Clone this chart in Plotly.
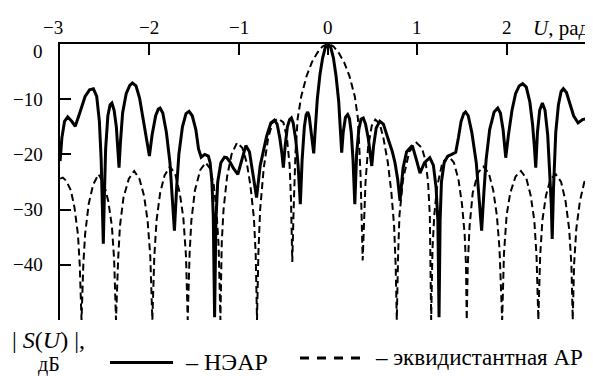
import plotly.graph_objects as go

# ---- data ----
u_near = [-3.00, -2.98, -2.95, -2.915, -2.87, -2.83, -2.78, -2.72, -2.67, -2.627,
          -2.59, -2.56, -2.54, -2.525, -2.516, -2.505, -2.49, -2.465, -2.44, -2.42,
          -2.395, -2.37, -2.35, -2.34, -2.325, -2.30, -2.26, -2.22, -2.19, -2.15,
          -2.11, -2.07, -2.03, -2.00, -1.97, -1.93, -1.90, -1.88, -1.85, -1.81,
          -1.77, -1.745, -1.72, -1.695, -1.67, -1.63, -1.59, -1.556, -1.52, -1.48,
          -1.45, -1.42, -1.38, -1.34, -1.32, -1.30, -1.285, -1.27, -1.255, -1.235,
          -1.20, -1.16, -1.134, -1.10, -1.06, -1.01, -0.96, -0.92, -0.88, -0.855,
          -0.825, -0.80, -0.76, -0.72, -0.687, -0.64, -0.60, -0.57, -0.54, -0.515,
          -0.50, -0.48, -0.455, -0.43, -0.41, -0.39, -0.36, -0.335, -0.31, -0.29,
          -0.265, -0.245, -0.227, -0.21, -0.19, -0.17, -0.16, -0.145, -0.12, -0.09,
          -0.06, -0.03, 0.00, 0.03, 0.06, 0.09, 0.12, 0.14, 0.153, 0.17,
          0.195, 0.22, 0.24, 0.26, 0.28, 0.30, 0.32, 0.345, 0.37, 0.395,
          0.42, 0.45, 0.475, 0.49, 0.51, 0.54, 0.58, 0.62, 0.675, 0.72,
          0.75, 0.78, 0.806, 0.84, 0.88, 0.944, 0.99, 1.03, 1.08, 1.14,
          1.18, 1.21, 1.23, 1.243, 1.255, 1.27, 1.30, 1.34, 1.385, 1.43,
          1.46, 1.49, 1.52, 1.54, 1.57, 1.61, 1.66, 1.69, 1.72, 1.745,
          1.77, 1.81, 1.86, 1.90, 1.93, 1.96, 1.99, 2.02, 2.06, 2.10,
          2.14, 2.18, 2.22, 2.26, 2.29, 2.31, 2.326, 2.345, 2.37, 2.40,
          2.43, 2.46, 2.48, 2.50, 2.51, 2.525, 2.55, 2.58, 2.61, 2.635,
          2.67, 2.71, 2.75, 2.80, 2.85, 2.895, 2.93, 2.97]
db_near = [-21.2, -17.0, -14.0, -13.2, -14.0, -14.9, -12.5, -9.5, -8.3, -8.1,
           -9.5, -14.0, -21.0, -29.0, -36.2, -28.0, -19.0, -13.0, -11.0, -10.7,
           -12.0, -15.0, -19.5, -22.4, -18.0, -12.5, -9.0, -7.5, -7.05, -7.6,
           -9.8, -13.5, -17.5, -20.3, -16.5, -13.0, -11.8, -11.6, -12.5, -16.0,
           -21.5, -27.0, -33.8, -26.0, -20.0, -15.0, -12.6, -12.2, -13.0, -15.5,
           -19.0, -20.5, -20.0, -20.3, -21.5, -25.0, -31.0, -49.5, -32.0, -25.0,
           -21.5, -20.5, -20.6, -21.3, -22.5, -23.6, -20.5, -18.4, -19.5, -22.1,
           -25.0, -27.8, -22.1, -19.0, -16.7, -14.3, -13.8, -14.5, -17.0, -20.0,
           -22.4, -18.5, -15.0, -13.7, -13.4, -14.3, -17.5, -22.0, -29.0, -21.0,
           -15.0, -12.8, -12.3, -13.2, -15.5, -18.0, -19.8, -16.0, -10.0, -5.5,
           -2.5, -0.6, 0.0, -0.6, -2.5, -5.8, -10.5, -16.0, -19.7, -16.0,
           -13.3, -12.8, -13.5, -16.0, -21.0, -29.0, -20.0, -15.5, -13.6, -13.4,
           -14.5, -17.0, -20.0, -22.1, -18.5, -15.2, -14.0, -14.5, -17.3, -19.5,
           -21.5, -24.5, -28.4, -22.5, -19.5, -18.4, -21.0, -23.4, -21.5, -20.6,
           -22.0, -26.0, -32.0, -49.5, -32.0, -25.0, -21.5, -20.3, -20.0, -19.6,
           -17.0, -14.0, -12.6, -12.3, -13.0, -16.0, -21.5, -27.0, -33.8, -27.0,
           -21.0, -15.5, -12.3, -11.6, -12.5, -15.5, -20.6, -16.5, -12.0, -9.0,
           -7.6, -7.2, -7.8, -10.5, -14.5, -18.5, -22.4, -16.0, -12.0, -10.7,
           -12.0, -16.5, -22.0, -29.0, -35.3, -26.0, -16.0, -11.0, -8.6, -8.1,
           -8.8, -10.8, -13.0, -14.3, -13.7, -13.5, -14.3, -15.2]

u_eq = [-3.00, -2.97, -2.93, -2.88, -2.84, -2.80, -2.78, -2.76, -2.74, -2.72,
        -2.68, -2.63, -2.57, -2.51, -2.46, -2.42, -2.395, -2.374, -2.35, -2.33,
        -2.29, -2.23, -2.17, -2.11, -2.06, -2.02, -1.99, -1.967, -1.945, -1.92,
        -1.88, -1.83, -1.77, -1.71, -1.66, -1.62, -1.59, -1.571, -1.55, -1.53,
        -1.49, -1.43, -1.37, -1.32, -1.28, -1.25, -1.225, -1.205, -1.19, -1.17,
        -1.13, -1.08, -1.02, -0.96, -0.91, -0.87, -0.83, -0.81, -0.795, -0.78,
        -0.76, -0.72, -0.67, -0.62, -0.56, -0.50, -0.46, -0.43, -0.415, -0.40,
        -0.385, -0.365, -0.34, -0.30, -0.24, -0.18, -0.12, -0.06, 0.00, 0.06,
        0.12, 0.18, 0.24, 0.30, 0.335, 0.365, 0.388, 0.40, 0.42, 0.45,
        0.49, 0.53, 0.58, 0.62, 0.67, 0.71, 0.74, 0.757, 0.77, 0.785,
        0.80, 0.84, 0.91, 0.99, 1.05, 1.09, 1.12, 1.14, 1.155, 1.17,
        1.19, 1.22, 1.28, 1.35, 1.41, 1.46, 1.50, 1.53, 1.545, 1.553,
        1.565, 1.585, 1.62, 1.68, 1.74, 1.80, 1.85, 1.89, 1.92, 1.95,
        1.97, 2.00, 2.04, 2.10, 2.16, 2.22, 2.27, 2.31, 2.335, 2.355,
        2.375, 2.40, 2.44, 2.49, 2.55, 2.61, 2.66, 2.70, 2.725, 2.74,
        2.755, 2.78, 2.82, 2.87, 2.915, 2.97]
db_eq = [-24.4, -24.2, -24.8, -26.5, -29.5, -34.5, -40.0, -50.0, -40.0, -34.5,
         -29.0, -25.5, -23.6, -25.3, -28.5, -33.0, -39.0, -50.0, -39.0, -33.0,
         -27.8, -24.4, -23.0, -24.5, -27.5, -32.0, -38.5, -50.0, -38.5, -32.0,
         -27.0, -23.8, -22.2, -23.6, -27.0, -31.5, -38.5, -50.0, -38.0, -32.0,
         -26.5, -22.8, -21.5, -22.6, -25.5, -30.0, -36.5, -50.0, -36.0, -30.0,
         -24.0, -20.0, -17.9, -18.8, -21.5, -25.5, -31.5, -38.0, -50.0, -38.0,
         -30.0, -22.5, -17.0, -14.2, -13.5, -14.2, -17.0, -22.0, -28.0, -39.5,
         -30.0, -20.0, -13.5, -9.5, -5.8, -3.3, -1.6, -0.4, 0.0, -0.4,
         -1.6, -3.3, -5.8, -9.5, -13.5, -24.0, -39.2, -32.0, -25.0, -18.5,
         -14.8, -13.7, -14.5, -17.0, -21.5, -27.0, -33.0, -40.0, -50.0, -38.0,
         -31.0, -24.5, -19.5, -17.9, -18.8, -21.0, -25.0, -31.0, -50.0, -37.0,
         -31.0, -26.0, -21.5, -20.3, -21.5, -24.5, -29.0, -34.5, -40.0, -50.0,
         -40.0, -33.0, -27.0, -23.3, -22.2, -23.4, -26.5, -31.0, -37.0, -50.0,
         -38.0, -31.0, -27.0, -24.0, -23.0, -24.3, -27.5, -32.0, -38.5, -50.0,
         -38.5, -32.0, -27.5, -24.5, -23.6, -25.0, -28.5, -33.5, -40.0, -50.0,
         -40.0, -33.5, -28.5, -25.0, -23.9, -24.4]

x_tickvals = [-3, -2, -1, 0, 1, 2]
x_ticktext = ["\u22123", "\u22122", "\u22121", "0", "1", "2"]
y_tickvals = [0, -10, -20, -30, -40]
y_ticktext = ["0", "\u221210", "\u221220", "\u221230", "\u221240"]
name_near = "НЭАР"
name_eq = "эквидистантная АР"

# ---- layout helpers: page pixels -> paper (page body has an 8px margin) ----
OFF = 8
W, H = 593 - OFF, 376 - OFF
PL, PR, PT, PB = 60, 593, 44.3, 320          # plot area in page pixels
L, R, T, B = PL - OFF, PR - OFF, PT - OFF, PB - OFF
def pxx(x):
    return (x - PL) / (PR - PL)
def pxy(y):
    return (PB - y) / (PB - PT)

FONT = "Liberation Serif"
TICK = 19

fig = go.Figure()
fig.add_trace(go.Scatter(x=u_eq, y=db_eq, mode="lines", name=name_eq,
                         line=dict(color="black", width=2, dash="7px,4px")))
fig.add_trace(go.Scatter(x=u_near, y=db_near, mode="lines", name=name_near,
                         line=dict(color="black", width=3)))

fig.update_layout(
    width=W, height=H,
    margin=dict(l=L, r=W - R, t=T, b=H - B, pad=0, autoexpand=False),
    paper_bgcolor="white", plot_bgcolor="white",
    showlegend=False,
    font=dict(family=FONT, size=TICK, color="black"),
    xaxis=dict(range=[-3.001, 2.967], side="top", showgrid=False, zeroline=False,
               automargin=False, showticklabels=False,
               showline=True, linecolor="black", linewidth=1.5,
               ticks="inside", ticklen=11, tickwidth=1.5, tickcolor="black",
               tickvals=x_tickvals[1:]),
    yaxis=dict(range=[-50, 0], showgrid=False, zeroline=False,
               automargin=False, showticklabels=False,
               showline=True, linecolor="black", linewidth=1.5,
               ticks="inside", ticklen=11, tickwidth=1.5, tickcolor="black",
               tickvals=y_tickvals[1:]),
)

ann = []
# x tick labels (above the top axis line)
for v, t in zip(x_tickvals, x_ticktext):
    ann.append(dict(x=v, xref="x", y=pxy(28), yref="paper", text=t,
                    showarrow=False, xanchor="center", yanchor="middle",
                    xshift=-7 if v == -3 else 0,
                    font=dict(family=FONT, size=TICK)))
# y tick labels (left of the axis line)
for v, t in zip(y_tickvals, y_ticktext):
    ann.append(dict(x=pxx(44.5), xref="paper", y=v, yref="y", text=t,
                    showarrow=False, xanchor="right", yanchor="middle",
                    yshift=-7 if v == 0 else 0,
                    font=dict(family=FONT, size=TICK)))
ann.append(dict(x=pxx(531), y=pxy(28), text="<i>U</i>, рад", showarrow=False,
                xref="paper", yref="paper", xanchor="left", yanchor="middle",
                font=dict(family=FONT, size=21)))
ann.append(dict(x=pxx(10), y=pxy(340), text="| <i>S</i>(<i>U</i>) |,", showarrow=False,
                xref="paper", yref="paper", xanchor="left", yanchor="middle",
                font=dict(family=FONT, size=24)))
ann.append(dict(x=pxx(49), y=pxy(364.5), text="дБ", showarrow=False,
                xref="paper", yref="paper", xanchor="center", yanchor="middle",
                font=dict(family=FONT, size=20)))
ann.append(dict(x=pxx(183), y=pxy(362), text="– " + name_near, showarrow=False,
                xref="paper", yref="paper", xanchor="left", yanchor="middle",
                font=dict(family=FONT, size=24)))
ann.append(dict(x=pxx(373), y=pxy(357), text="– " + name_eq, showarrow=False,
                xref="paper", yref="paper", xanchor="left", yanchor="middle",
                font=dict(family=FONT, size=23)))
fig.update_layout(annotations=ann)

fig.add_shape(type="line", xref="paper", yref="paper",
              x0=pxx(110), x1=pxx(173), y0=pxy(362.5), y1=pxy(362.5),
              line=dict(color="black", width=3))
fig.add_shape(type="line", xref="paper", yref="paper",
              x0=pxx(300), x1=pxx(362), y0=pxy(358), y1=pxy(358),
              line=dict(color="black", width=3, dash="9px,8px"))

fig.write_html("out.html")
